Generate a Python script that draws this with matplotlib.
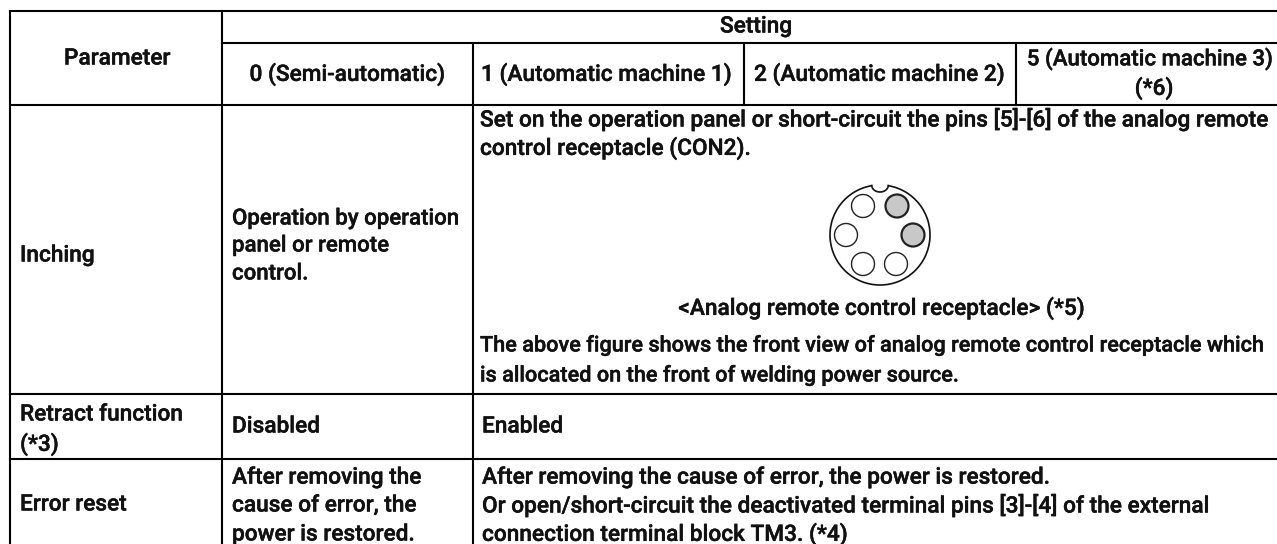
import matplotlib
matplotlib.use("Agg")
import matplotlib.pyplot as plt
import matplotlib.patheffects as pe
from matplotlib.patches import Circle, Arc
import numpy as np

W, H = 1277, 544
plt.rcParams['font.family'] = ['Roboto', 'Liberation Sans', 'DejaVu Sans']

col_x = [10, 222, 473, 744, 1016, 1290]
row_y = [11, 43, 105, 394, 459, 560]

header_parameter = "Parameter"
header_setting = "Setting"
setting_headers = ["0 (Semi-automatic)", "1 (Automatic machine 1)", "2 (Automatic machine 2)"]
setting_last = ["5 (Automatic machine 3)", "(*6)"]
row_labels = ["Inching", "Retract function", "(*3)", "Error reset"]
inching_semi = ["Operation by operation", "panel or remote", "control."]
inching_auto = ["Set on the operation panel or short-circuit the pins [5]-[6] of the analog remote",
                "control receptacle (CON2)."]
caption = "<Analog remote control receptacle> (*5)"
note = ["The above figure shows the front view of analog remote control receptacle which",
        "is allocated on the front of welding power source."]
retract = ["Disabled", "Enabled"]
error_semi = ["After removing the", "cause of error, the", "power is restored."]
error_auto = ["After removing the cause of error, the power is restored.",
              "Or open/short-circuit the deactivated terminal pins [3]-[4] of the external",
              "connection terminal block TM3. (*4)"]

fig = plt.figure(figsize=(W / 100, H / 100), dpi=100)
ax = fig.add_axes([0, 0, 1, 1])
ax.set_xlim(0, W)
ax.set_ylim(H, 0)
ax.axis('off')

LW = 1.5
def hl(y, a, b):
    ax.plot([a, b], [y, y], color='black', lw=LW, solid_capstyle='projecting')
def vl(x, a, b):
    ax.plot([x, x], [a, b], color='black', lw=LW, solid_capstyle='projecting')

hl(row_y[0], col_x[0], col_x[5])
hl(row_y[1], col_x[1], col_x[5])
for y in row_y[2:5]:
    hl(y, col_x[0], col_x[5])
vl(col_x[0], row_y[0], row_y[5])
vl(col_x[1], row_y[0], row_y[5])
vl(col_x[2], row_y[1], row_y[5])
vl(col_x[3], row_y[1], row_y[2])
vl(col_x[4], row_y[1], row_y[2])

FS = 16.3
STROKE = [pe.withStroke(linewidth=0.3, foreground='#111111')]
def T(x, y, s, ha='left', fs=FS):
    ax.text(x, y + 1, s, ha=ha, va='center', fontsize=fs, color='#111111',
            weight='medium', path_effects=STROKE)

T(117, 57, header_parameter, 'center')
T(756, 25, header_setting, 'center')
T(347, 73, setting_headers[0], 'center')
T(481, 73, setting_headers[1])
T(754, 73, setting_headers[2])
T(1150, 58, setting_last[0], 'center', 16.0)
T(1154, 87, setting_last[1], 'center')

T(20, 254, row_labels[0])
T(20, 413, row_labels[1])
T(20, 443, row_labels[2])
T(20, 503, row_labels[3])

for y, s in zip([218, 245, 273], inching_semi):
    T(232, y, s, fs=16.0)
for y, s in zip([118, 147], inching_auto):
    T(480, y, s)
T(881, 307, caption, 'center')
for y, s in zip([345, 375], note):
    T(480, y, s, fs=15.6)

T(232, 425, retract[0])
T(482, 425, retract[1])

for y, s in zip([476, 504, 533], error_semi):
    T(232, y, s)
for y, s in zip([476, 504, 533], error_auto):
    T(482, y, s)

# receptacle figure
cx, cy, R = 880, 235, 50
ax.add_patch(Arc((cx, cy), 2 * R, 2 * R, theta1=-80.5, theta2=260.5, color='#111111', lw=1.2))
t = np.linspace(0, np.pi, 30)
ax.plot(cx + 8.2 * np.cos(t), cy - R + 0.5 + 6.5 * np.sin(t), color='#111111', lw=1.2)
pins = [(897, 206, '#c8c8c8', 1.6), (863, 206, 'white', 1.0), (913, 235, '#c8c8c8', 1.6),
        (846, 235, 'white', 1.0), (863, 264, 'white', 1.0), (896, 264, 'white', 1.0)]
for x, y, c, lw in pins:
    ax.add_patch(Circle((x, y), 11.5, facecolor=c, edgecolor='#222222', lw=lw))

fig.savefig('out.png', dpi=100)
